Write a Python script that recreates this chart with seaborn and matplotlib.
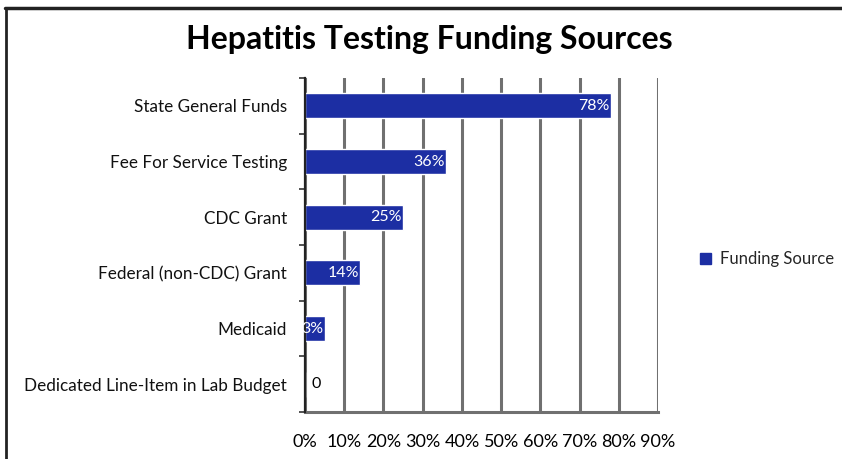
import numpy as np
import pandas as pd
import matplotlib
matplotlib.use('Agg')
import matplotlib.pyplot as plt
import seaborn as sns
from matplotlib.patches import Patch
from matplotlib.lines import Line2D

sources = [
    'State General Funds',
    'Fee For Service Testing',
    'CDC Grant',
    'Federal (non-CDC) Grant',
    'Medicaid',
    'Dedicated Line-Item in Lab Budget',
]
percent = [78, 36, 25, 14, 5, 0]
value_labels = ['78%', '36%', '25%', '14%', '3%', '0']
xticks = [0, 10, 20, 30, 40, 50, 60, 70, 80, 90]

BAR_BLUE = '#1c2ea3'
GRID_GREY = '#707070'

sns.set_theme(style='white')
plt.rcParams['font.family'] = ['Lato', 'DejaVu Sans']

df = pd.DataFrame({'source': sources, 'percent': percent})

fig = plt.figure(figsize=(8.42, 4.59), dpi=100)
ax = fig.add_axes([0.3622, 0.1024, 0.4193, 0.7276])

sns.barplot(data=df, y='source', x='percent', color=BAR_BLUE,
            width=0.45, saturation=1, ax=ax, zorder=3)

ax.set_xlim(0, 90)
ax.set_ylim(len(sources) - 0.5, -0.5)
ax.set_xticks(xticks)
ax.set_xticklabels([f'{t}%' for t in xticks], fontsize=13, color='black')
ax.tick_params(axis='x', length=0, pad=16)
ax.set_xlabel('')
ax.set_ylabel('')

# category labels, with small tick marks between categories
ax.tick_params(axis='y', which='major', length=0, pad=13, labelsize=12.3, labelcolor='#111111')
ax.set_yticks(np.arange(len(sources) + 1) - 0.5, minor=True)
ax.tick_params(axis='y', which='minor', length=4, width=1.2, color='#333333', left=True)

ax.xaxis.grid(True, color=GRID_GREY, linewidth=2.2, zorder=0)
ax.set_axisbelow(True)

for side in ['top', 'right']:
    ax.spines[side].set_visible(False)
ax.spines['left'].set_color('#222222')
ax.spines['left'].set_linewidth(1.6)
ax.spines['left'].set_zorder(5)
ax.spines['bottom'].set_color(GRID_GREY)
ax.spines['bottom'].set_linewidth(2.2)

for i, (val, lab) in enumerate(zip(percent, value_labels)):
    if val > 0:
        ax.text(val - 0.3, i, lab, ha='right', va='center', color='white',
                fontsize=11.5, zorder=6)
    else:
        ax.text(1.7, i, lab, ha='left', va='center', color='black',
                fontsize=11.5, zorder=6)

fig.text(429 / 842, 1 - 40 / 459, 'Hepatitis Testing Funding Sources',
         ha='center', va='center', fontsize=23, fontweight='bold', color='black')

fig.legend(handles=[Patch(facecolor=BAR_BLUE, edgecolor=BAR_BLUE, label='Funding Source')],
           loc='center left', bbox_to_anchor=(692 / 842, 1 - 259 / 459),
           frameon=False, fontsize=12, handlelength=0.65, handleheight=0.65,
           handletextpad=0.5, borderpad=0)

# outer frame: top and left edges
fig.add_artist(Line2D([5 / 842, 1], [1 - 8 / 459, 1 - 8 / 459],
                      transform=fig.transFigure, color='#222222', linewidth=2.5))
fig.add_artist(Line2D([6 / 842, 6 / 842], [0, 1 - 8 / 459],
                      transform=fig.transFigure, color='#222222', linewidth=2))

fig.savefig('out.png', dpi=100, facecolor='white')
